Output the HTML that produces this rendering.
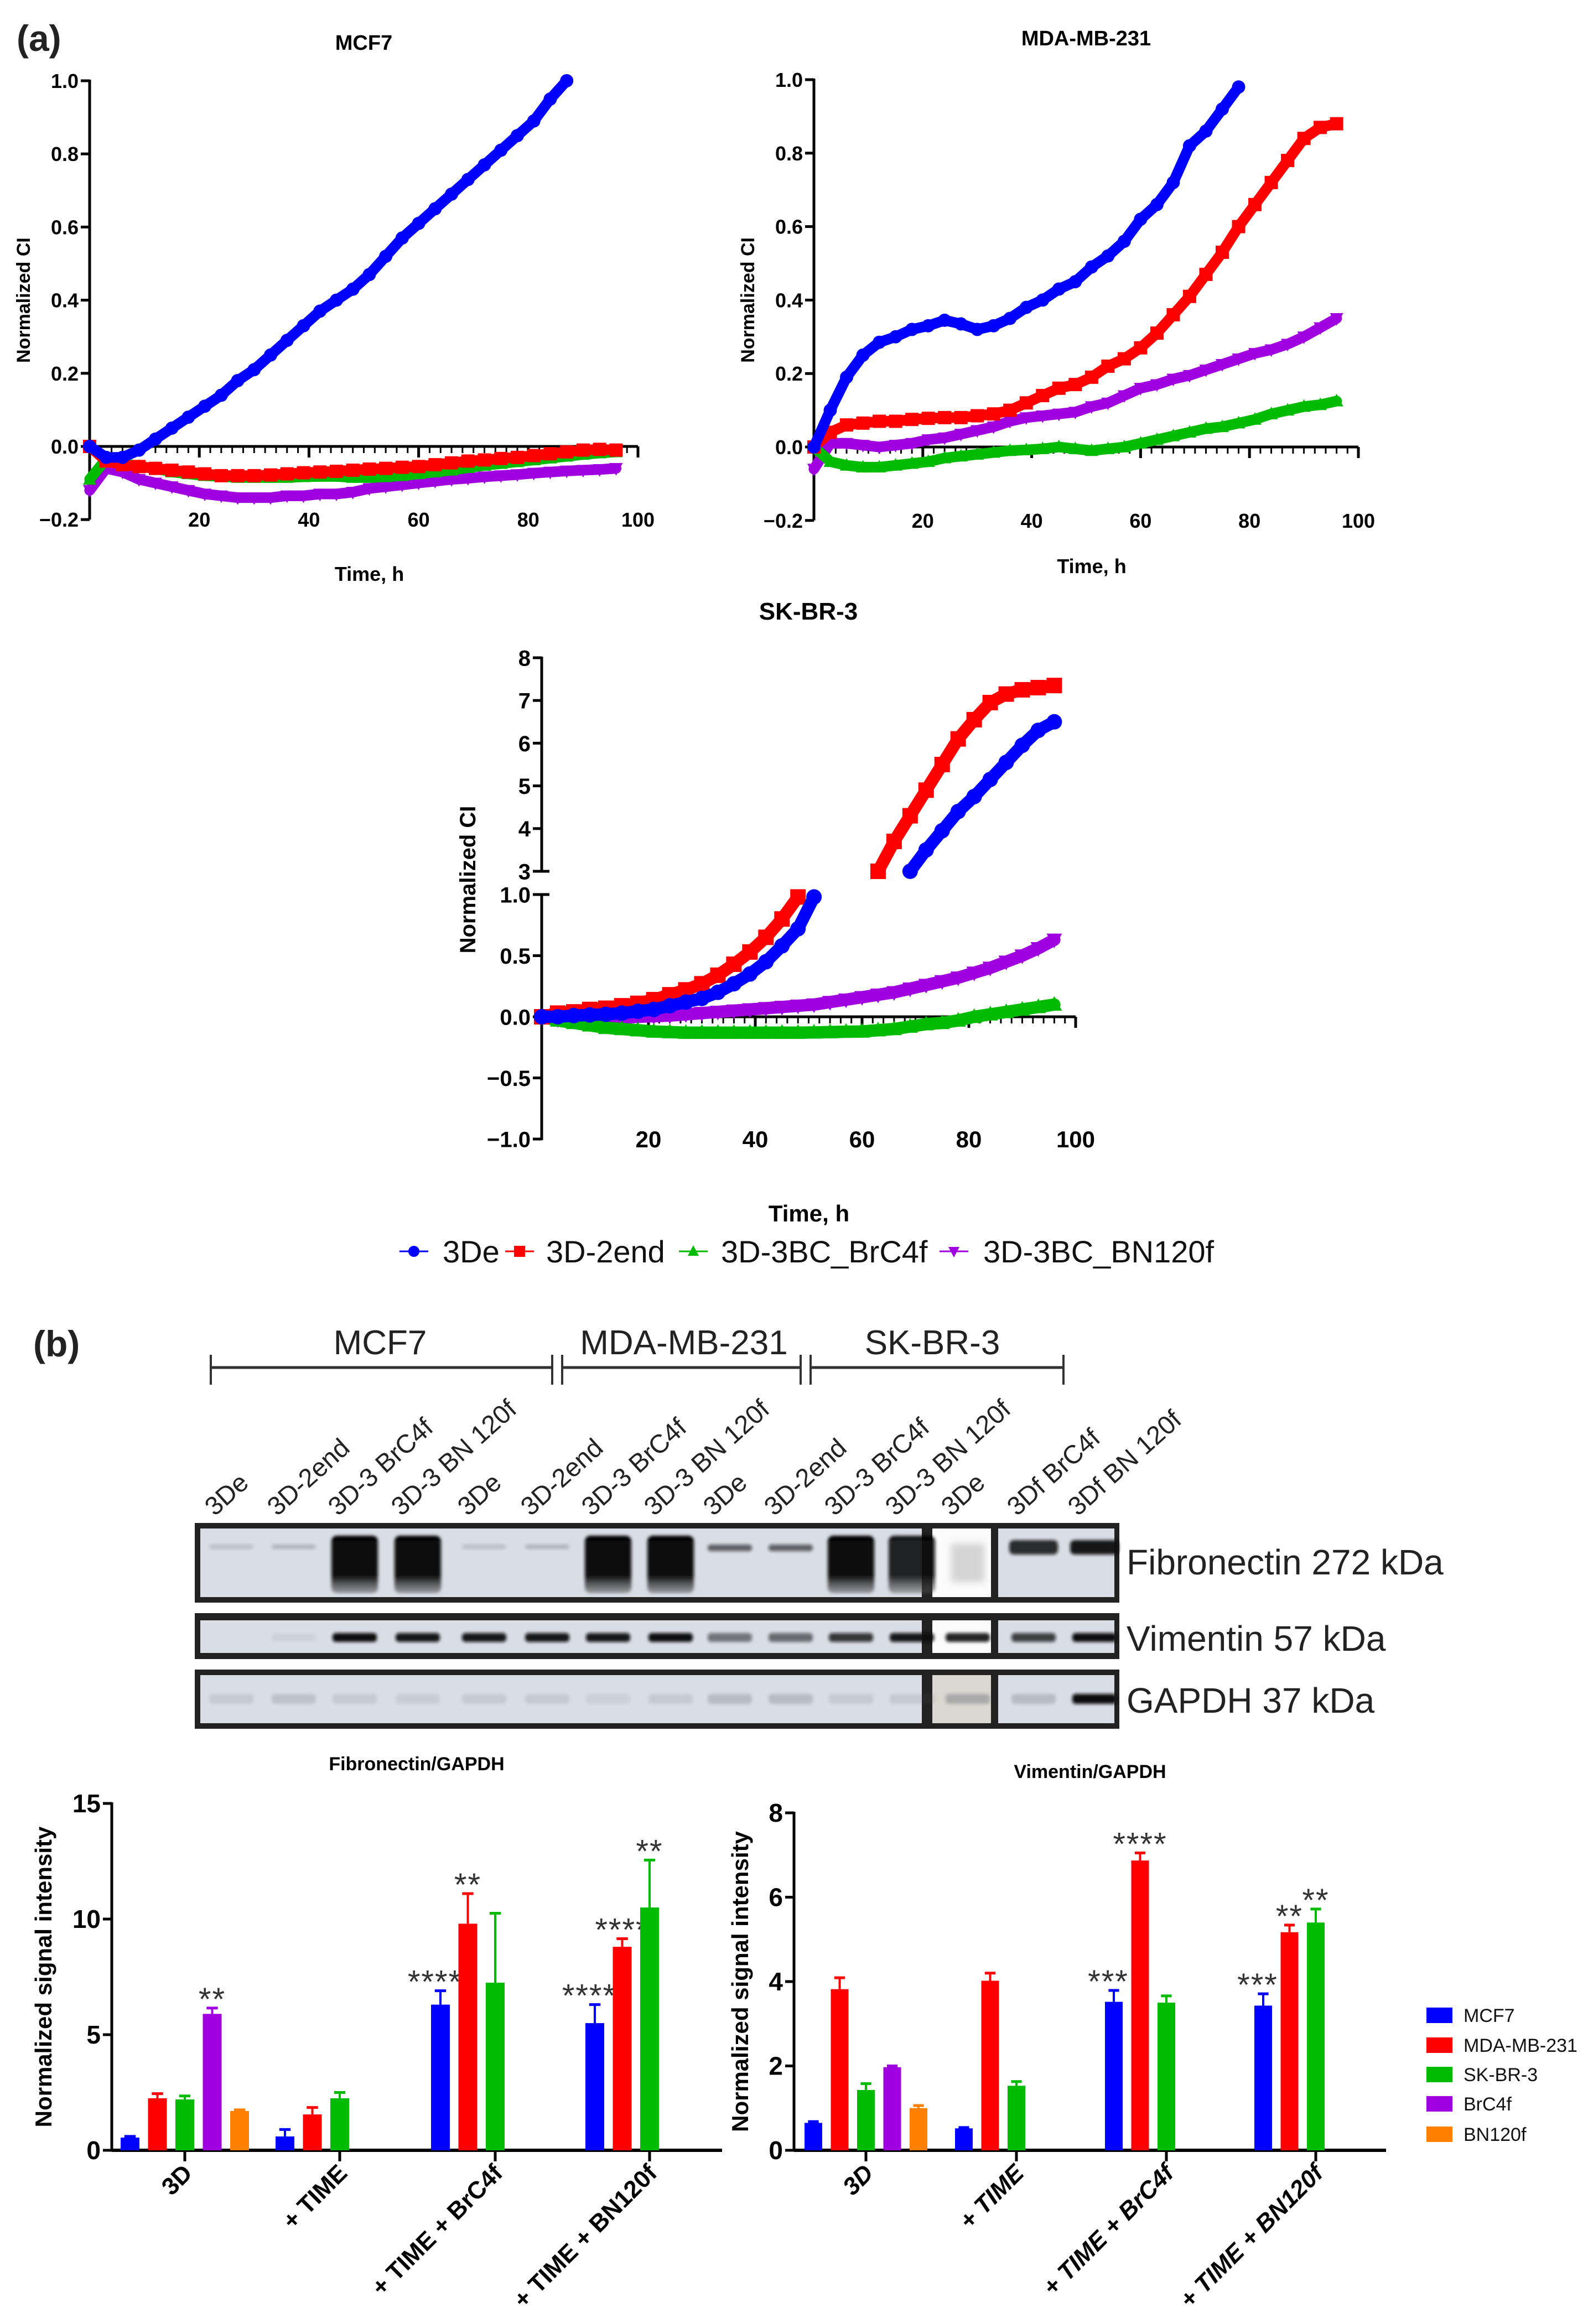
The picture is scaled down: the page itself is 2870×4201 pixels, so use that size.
<!DOCTYPE html>
<html><head><meta charset="utf-8"><style>
html,body{margin:0;padding:0;background:#fff;}
svg{display:block;font-family:"Liberation Sans",Arial,sans-serif;}
</style></head><body>
<svg id="fig" width="2870" height="4201" viewBox="0 0 2870 4201" xmlns="http://www.w3.org/2000/svg">
<defs>
<filter id="blur6" x="-50%" y="-50%" width="200%" height="200%"><feGaussianBlur stdDeviation="6"/></filter>
<filter id="blur3" x="-50%" y="-50%" width="200%" height="200%"><feGaussianBlur stdDeviation="3"/></filter>
<linearGradient id="smear" x1="0" y1="0" x2="0" y2="1">
<stop offset="0" stop-color="#050505"/><stop offset="0.7" stop-color="#111"/><stop offset="1" stop-color="#555" stop-opacity="0.5"/>
</linearGradient>
</defs>
<text x="30" y="92" font-size="66" font-weight="bold" fill="#222">(a)</text>
<text x="60" y="2452" font-size="66" font-weight="bold" fill="#222">(b)</text>
<g id="timeSeries"></g>
<g id="blot"></g>
<g id="bars"></g>
</svg>
<script>
// ---------- time-series data ----------
const hours = [0,3,6,9,12,15,18,21,24,27,30,33,36,39,42,45,48,51,54,57,60,63,66,69,72,75,78,81,84,87,90,93,96];
const mcf7_3De = [0,-0.03,-0.03,-0.01,0.02,0.05,0.08,0.11,0.14,0.18,0.21,0.25,0.29,0.33,0.37,0.40,0.43,0.47,0.52,0.57,0.61,0.65,0.69,0.73,0.77,0.81,0.85,0.89,0.95,1.0,null,null,null];
const mcf7_2end = [0,-0.04,-0.05,-0.055,-0.06,-0.065,-0.07,-0.075,-0.08,-0.08,-0.08,-0.078,-0.075,-0.072,-0.07,-0.068,-0.065,-0.062,-0.06,-0.057,-0.055,-0.05,-0.045,-0.04,-0.037,-0.033,-0.03,-0.025,-0.02,-0.015,-0.01,-0.008,-0.01];
const mcf7_BrC4f = [-0.09,-0.035,-0.045,-0.055,-0.06,-0.07,-0.075,-0.08,-0.082,-0.085,-0.085,-0.085,-0.085,-0.083,-0.082,-0.082,-0.085,-0.085,-0.083,-0.08,-0.075,-0.07,-0.065,-0.058,-0.052,-0.047,-0.042,-0.037,-0.032,-0.027,-0.022,-0.018,-0.015];
const mcf7_BN120f = [-0.12,-0.06,-0.07,-0.09,-0.1,-0.11,-0.12,-0.13,-0.135,-0.14,-0.14,-0.14,-0.135,-0.135,-0.13,-0.13,-0.125,-0.115,-0.11,-0.105,-0.1,-0.095,-0.09,-0.087,-0.083,-0.08,-0.077,-0.073,-0.07,-0.067,-0.065,-0.063,-0.06];
const mda_3De = [0,0.10,0.19,0.25,0.285,0.30,0.32,0.33,0.345,0.335,0.32,0.33,0.35,0.38,0.40,0.43,0.45,0.49,0.52,0.56,0.62,0.66,0.72,0.82,0.86,0.92,0.98,null,null,null,null,null,null];
const mda_2end = [0,0.04,0.06,0.065,0.07,0.07,0.075,0.078,0.08,0.08,0.085,0.09,0.10,0.12,0.14,0.16,0.17,0.19,0.22,0.24,0.27,0.31,0.36,0.41,0.47,0.53,0.60,0.66,0.72,0.78,0.84,0.87,0.88];
const mda_BrC4f = [0,-0.04,-0.05,-0.055,-0.055,-0.05,-0.045,-0.04,-0.03,-0.025,-0.02,-0.015,-0.01,-0.008,-0.005,0,-0.005,-0.01,-0.005,0,0.01,0.02,0.03,0.04,0.05,0.055,0.065,0.075,0.09,0.1,0.11,0.115,0.125];
const mda_BN120f = [-0.06,0.01,0.01,0.005,0,0.005,0.01,0.02,0.025,0.035,0.045,0.055,0.07,0.08,0.085,0.09,0.095,0.11,0.12,0.14,0.16,0.17,0.185,0.195,0.21,0.225,0.24,0.255,0.265,0.28,0.3,0.325,0.35];
const skbr_3De = [0,0,0.01,0.015,0.02,0.03,0.045,0.06,0.09,0.12,0.15,0.2,0.27,0.35,0.45,0.58,0.72,0.98,null,null,null,null,null,3.0,3.5,3.95,4.4,4.75,5.15,5.55,5.95,6.3,6.5];
const skbr_2end = [0,0.03,0.04,0.06,0.07,0.09,0.11,0.14,0.18,0.22,0.27,0.34,0.43,0.53,0.65,0.8,0.98,null,null,null,null,3.0,3.7,4.3,4.9,5.5,6.1,6.55,6.95,7.15,7.25,7.3,7.35];
const skbr_BrC4f = [0,-0.03,-0.05,-0.07,-0.09,-0.1,-0.11,-0.12,-0.125,-0.13,-0.13,-0.13,-0.13,-0.13,-0.13,-0.13,-0.13,-0.128,-0.125,-0.122,-0.12,-0.11,-0.1,-0.08,-0.06,-0.05,-0.03,0,0.02,0.04,0.06,0.08,0.1];
const skbr_BN120f = [0,-0.02,-0.02,-0.02,-0.015,-0.01,0,0.005,0.01,0.02,0.03,0.04,0.05,0.06,0.07,0.08,0.09,0.1,0.12,0.14,0.16,0.18,0.2,0.23,0.26,0.29,0.32,0.36,0.4,0.45,0.5,0.56,0.63];
const seriesNames = ["3De","3D-2end","3D-3BC_BrC4f","3D-3BC_BN120f"];
const xTicks = [20,40,60,80,100];
const tsYTicks = [-0.2,0,0.2,0.4,0.6,0.8,1.0];
const skLowTicks = [-1.0,-0.5,0.0,0.5,1.0];
const skHighTicks = [3,4,5,6,7,8];

// ---------- bar data ----------
const barCategories = ["3D","+ TIME","+ TIME + BrC4f","+ TIME + BN120f"];
const barSeries = ["MCF7","MDA-MB-231","SK-BR-3","BrC4f","BN120f"];
const fibMean = [[0.55,2.25,2.2,5.9,1.7],[0.6,1.55,2.25],[6.3,9.8,7.25],[5.5,8.8,10.5]];
const fibErr  = [[0.05,0.2,0.15,0.25,0.05],[0.3,0.3,0.25],[0.6,1.3,3.0],[0.8,0.35,2.05]];
const fibStars = [[null,null,null,"**",null],[null,null,null],["****","**",null],["****","****","**"]];
const fibTicks = [0,5,10,15];
const vimMean = [[0.65,3.82,1.43,1.97,1.0],[0.52,4.02,1.53],[3.52,6.87,3.5],[3.43,5.17,5.4]];
const vimErr  = [[0.03,0.27,0.15,0.03,0.06],[0.02,0.18,0.1],[0.27,0.18,0.16],[0.28,0.17,0.32]];
const vimStars = [[null,null,null,null,null],[null,null,null],["***","****",null],["***","**","**"]];
const vimTicks = [0,2,4,6,8];

const NS="http://www.w3.org/2000/svg";
function mk(parent, tag, attrs, text){
  const e=document.createElementNS(NS,tag);
  for(const k in attrs) e.setAttribute(k,attrs[k]);
  if(text!==undefined) e.textContent=text;
  parent.appendChild(e); return e;
}
const COLORS=["#0000ff","#ff0000","#00bb00","#a000e0"];
const BARCOL=["#0000ff","#ff0000","#00bb00","#a000e0","#ff8000"];

function marker(g, kind, x, y, s, col){
  let e;
  if(kind===0) e=mk(g,"circle",{cx:x,cy:y,r:s,fill:col});
  else if(kind===1) e=mk(g,"rect",{x:x-s,y:y-s,width:2*s,height:2*s,fill:col});
  else if(kind===2) e=mk(g,"polygon",{points:`${x},${y-s*1.1} ${x-s},${y+s*0.8} ${x+s},${y+s*0.8}`,fill:col});
  else e=mk(g,"polygon",{points:`${x},${y+s*1.1} ${x-s},${y-s*0.8} ${x+s},${y-s*0.8}`,fill:col});
  return e;
}

function drawSeries(g, vals, idx, X, Y, ms){
  const col=COLORS[idx];
  const sg=mk(g,"g",{});
  
  
  let seg=[];
  const segs=[];
  hours.forEach((h,i)=>{
    const v=vals[i]; const py=(v===null)?null:Y(v);
    if(py===null){ if(seg.length) segs.push(seg); seg=[]; }
    else seg.push([X(h),py]);
  });
  if(seg.length) segs.push(seg);
  segs.forEach(s=>{
    if(s.length>1){
      const pl=mk(sg,"polyline",{points:s.map(p=>p.join(',')).join(' '),fill:"none",stroke:col,"stroke-width":ms*1.6,"stroke-linejoin":"round","stroke-linecap":"round"});
      
      
    }
    s.forEach(p=>{
      const m=marker(sg,idx,p[0],p[1],ms,col);
      
      
    });
  });
}

function xAxis(g, X, yAxis, yLabel, big){
  mk(g,"line",{x1:X(0),y1:yAxis,x2:X(100),y2:yAxis,stroke:"#000","stroke-width":5});
  for(let h=2;h<=100;h+=2){
    const major=h%20===0;
    mk(g,"line",{x1:X(h),y1:yAxis,x2:X(h),y2:yAxis+(major?20:12),stroke:"#000","stroke-width":major?5:3});
  }
  xTicks.forEach(t=>{
    const tl=mk(g,"text",{x:X(t),y:yLabel,"font-size":big?42:36,"font-weight":"bold","text-anchor":"middle"},String(t));
    
    
  });
}
function yTickLabel(g,x,y,v,fs){
  mk(g,"line",{x1:x-16,y1:y,x2:x,y2:y,stroke:"#000","stroke-width":5});
  const s=(v<0?"\u2212":"")+Math.abs(v).toFixed(Number.isInteger(v)&&Math.abs(v)>=2?0:1);
  const t=mk(g,"text",{x:x-20,y:y+fs*0.36,"font-size":fs,"font-weight":"bold","text-anchor":"end"},s);
  
  
}

function simplePanel(name,title,data,x0,x100,y0,yTop,titleY,timeY){
  const g=mk(document.getElementById('timeSeries'),"g",{});
  
  
  const X=h=>x0+(x100-x0)*h/100;
  const Y=v=>y0-(y0-yTop)*v;
  const tt=mk(g,"text",{x:(x0+x100)/2,y:titleY,"font-size":38,"font-weight":"bold","text-anchor":"middle"},title);
  
  
  mk(g,"line",{x1:x0,y1:Y(1.0)-2,x2:x0,y2:Y(-0.2),stroke:"#000","stroke-width":5});
  tsYTicks.forEach(v=>yTickLabel(g,x0,Y(v),v,36));
  xAxis(g,X,y0,Y(-0.2)+13,false);
  const yt=mk(g,"text",{x:0,y:0,"font-size":34,"font-weight":"bold","text-anchor":"middle",transform:`translate(${x0-108},${(Y(1)+Y(-0.2))/2}) rotate(-90)`},"Normalized CI");
  
  
  const xt=mk(g,"text",{x:(x0+x100)/2+10,y:timeY,"font-size":36,"font-weight":"bold","text-anchor":"middle"},"Time, h");
  
  
  [3,2,1,0].forEach(i=>drawSeries(g,data[i],i,X,Y,12));
}
simplePanel("mcf7","MCF7",[mcf7_3De,mcf7_2end,mcf7_BrC4f,mcf7_BN120f],162,1153,807,146,90,1050);
simplePanel("mda-mb-231","MDA-MB-231",[mda_3De,mda_2end,mda_BrC4f,mda_BN120f],1471,2455,808,144,82,1036);

// SK-BR-3 with broken axis
(function(){
  const g=mk(document.getElementById('timeSeries'),"g",{});
  
  
  const x0=979,x100=1944,y0=1838,lowU=221,y3=1575,hiU=77.2;
  const X=h=>x0+(x100-x0)*h/100;
  const Y=v=>{ if(v<=1.0) return y0-v*lowU; if(v>=3) return y3-(v-3)*hiU; return null; };
  const tt=mk(g,"text",{x:1461,y:1120,"font-size":44,"font-weight":"bold","text-anchor":"middle"},"SK-BR-3");
  
  
  mk(g,"line",{x1:x0,y1:Y(8)-2,x2:x0,y2:y3+2,stroke:"#000","stroke-width":5});
  mk(g,"line",{x1:x0,y1:Y(1)-2,x2:x0,y2:Y(-1)+2,stroke:"#000","stroke-width":5});
  mk(g,"line",{x1:x0,y1:y3,x2:x0+14,y2:y3,stroke:"#000","stroke-width":5});
  mk(g,"line",{x1:x0,y1:Y(1),x2:x0+14,y2:Y(1),stroke:"#000","stroke-width":5});
  skHighTicks.forEach(v=>yTickLabel(g,x0,Y(v),v,40));
  skLowTicks.forEach(v=>yTickLabel(g,x0,Y(v),v,40));
  xAxis(g,X,y0,Y(-1)+15,true);
  const yt=mk(g,"text",{x:0,y:0,"font-size":40,"font-weight":"bold","text-anchor":"middle",transform:`translate(${x0-120},${1590}) rotate(-90)`},"Normalized CI");
  
  
  const xt=mk(g,"text",{x:1462,y:2208,"font-size":42,"font-weight":"bold","text-anchor":"middle"},"Time, h");
  
  
  const data=[skbr_3De,skbr_2end,skbr_BrC4f,skbr_BN120f];
  [3,2,1,0].forEach(i=>drawSeries(g,data[i],i,X,Y,14));
  // legend
  const lg=mk(g,"g",{});
  
  
  const mx=[748,939,1253,1724], tx=[800,987,1303,1777];
  seriesNames.forEach((n,i)=>{
    const eg=mk(lg,"g",{});
    
    
    mk(eg,"line",{x1:mx[i]-26,y1:2262,x2:mx[i]+26,y2:2262,stroke:COLORS[i],"stroke-width":3});
    marker(eg,i,mx[i],2262,10,COLORS[i]);
    mk(eg,"text",{x:tx[i],y:2282,"font-size":56,fill:"#111"},n);
  });
})();

// ---------- western blot ----------
(function(){
  const g=document.getElementById('blot');
  const head=mk(g,"g",{stroke:"#333","stroke-width":5});
  
  
  [[381,998],[1016,1447],[1465,1922]].forEach(s=>mk(head,"line",{x1:s[0],y1:2472,x2:s[1],y2:2472}));
  [381,998,1016,1447,1465,1922].forEach(x=>mk(head,"line",{x1:x,y1:2449,x2:x,y2:2503,"stroke-width":4}));
  [["MCF7",687],["MDA-MB-231",1236],["SK-BR-3",1685]].forEach(a=>{
    const t=mk(g,"text",{x:a[1],y:2448,"font-size":62,"text-anchor":"middle",fill:"#222"},a[0]);
    
    
  });
  const lanes=[418,531,641,755,875,989,1099,1212,1319,1429,1538,1648,1749,1868,1978];
  const laneLabels=["3De","3D-2end","3D-3 BrC4f","3D-3 BN 120f","3De","3D-2end","3D-3 BrC4f","3D-3 BN 120f","3De","3D-2end","3D-3 BrC4f","3D-3 BN 120f","3De","3Df BrC4f","3Df BN 120f"];
  lanes.forEach((x,i)=>{
    const t=mk(g,"text",{x:0,y:0,"font-size":47,fill:"#222",transform:`translate(${x-30},${2742}) rotate(-42)`},laneLabels[i]);
    
    
  });
  function box(name,y1,y2,iy1,iy2,label,ly){
    const bg=mk(g,"g",{});
    
    
    mk(bg,"rect",{x:352,y:y1,width:1671,height:y2-y1,fill:"#222"});
    mk(bg,"rect",{x:362,y:iy1,width:1304,height:iy2-iy1,fill:"#d9dee6"});
    mk(bg,"rect",{x:1685,y:iy1,width:106,height:iy2-iy1,fill:name==="gapdh-blot"?"#d8d8d0":"#fbfbfb"});
    mk(bg,"rect",{x:1804,y:iy1,width:210,height:iy2-iy1,fill:"#d9dee6"});
    const t=mk(g,"text",{x:2036,y:ly,"font-size":64,fill:"#222"},label);
    
    
    return bg;
  }
  const fib=box("fibronectin-blot",2753,2897,2763,2887,"Fibronectin 272 kDa",2846);
  const fibInt=[0.15,0.2,1,1,0.15,0.2,1,1,0.6,0.6,1,0.9,0.15,0.85,0.95];
  lanes.forEach((x,i)=>{
    const v=fibInt[i];
    let e;
    if(v>=0.85 && i<12) e=mk(fib,"rect",{x:x-42,y:2776,width:84,height:104,rx:10,fill:"url(#smear)",opacity:v,filter:"url(#blur3)"});
    else if(i===12) e=mk(fib,"rect",{x:x-30,y:2790,width:60,height:70,fill:"#bbb",opacity:0.6,filter:"url(#blur6)"});
    else if(i>12) e=mk(fib,"rect",{x:x-44,y:2784,width:88,height:26,rx:8,fill:"#111",opacity:v,filter:"url(#blur3)"});
    else e=mk(fib,"rect",{x:x-40,y:2792,width:80,height:v>0.5?12:8,rx:5,fill:"#111",opacity:v,filter:"url(#blur3)"});
    
    
  });
  const vim=box("vimentin-blot",2916,2999,2929,2988,"Vimentin 57 kDa",2984);
  const vimInt=[0,0.05,1,0.95,0.95,0.95,0.95,1,0.5,0.55,0.8,0.95,0.9,0.75,1];
  lanes.forEach((x,i)=>{
    const e=mk(vim,"rect",{x:x-40,y:2952,width:80,height:16,rx:6,fill:"#0a0a0a",opacity:vimInt[i],filter:"url(#blur3)"});
    
    
  });
  const gap=box("gapdh-blot",3018,3125,3028,3115,"GAPDH 37 kDa",3096);
  const gapInt=[0.15,0.2,0.15,0.12,0.15,0.15,0.1,0.15,0.25,0.25,0.15,0.15,0.35,0.25,1];
  lanes.forEach((x,i)=>{
    const e=mk(gap,"rect",{x:x-40,y:3062,width:80,height:18,rx:6,fill:i===14?"#0a0a0a":"#556",opacity:gapInt[i],filter:"url(#blur3)"});
    
    
  });
})();

// ---------- bar charts ----------
function barChart(name,title,titleX,titleY,axisX,axisEnd,y0,yTop,maxV,ticks,mean,err,stars,groupTicks,spacing,bw,italic,ytX){
  const g=mk(document.getElementById('bars'),"g",{});
  
  
  const Y=v=>y0-(y0-yTop)*v/maxV;
  const t=mk(g,"text",{x:titleX,y:titleY,"font-size":34,"font-weight":"bold","text-anchor":"middle"},title);
  
  
  mk(g,"line",{x1:axisX,y1:Y(maxV)-2,x2:axisX,y2:y0+2,stroke:"#000","stroke-width":5});
  mk(g,"line",{x1:axisX,y1:y0,x2:axisEnd,y2:y0,stroke:"#000","stroke-width":6});
  ticks.forEach(v=>{
    mk(g,"line",{x1:axisX-16,y1:Y(v),x2:axisX,y2:Y(v),stroke:"#000","stroke-width":5});
    const tl=mk(g,"text",{x:axisX-20,y:Y(v)+16,"font-size":46,"font-weight":"bold","text-anchor":"end"},String(v));
    
    
  });
  const yt=mk(g,"text",{x:0,y:0,"font-size":42,"font-weight":"bold","text-anchor":"middle",transform:`translate(${ytX},${(Y(maxV)+y0)/2}) rotate(-90)`},"Normalized signal intensity");
  
  
  barCategories.forEach((c,gi)=>{
    const cx=groupTicks[gi];
    mk(g,"line",{x1:cx,y1:y0,x2:cx,y2:y0+20,stroke:"#000","stroke-width":5});
    const cl=mk(g,"text",{x:0,y:0,"font-size":44,"font-weight":"bold","font-style":italic?"italic":"normal","text-anchor":"end",transform:`translate(${cx+16},${y0+44}) rotate(-45)`},c);
    
    
    mean[gi].forEach((v,si)=>{
      const bx=cx+(si-2)*spacing;
      const col=BARCOL[si];
      const b=mk(g,"rect",{x:bx-bw/2,y:Y(v),width:bw,height:y0-Y(v),fill:col});
      
      
      const top=Y(v+err[gi][si]);
      mk(g,"line",{x1:bx,y1:Y(v),x2:bx,y2:top,stroke:col,"stroke-width":4});
      mk(g,"line",{x1:bx-bw*0.3,y1:top,x2:bx+bw*0.3,y2:top,stroke:col,"stroke-width":5});
      const s=stars[gi][si];
      if(s){
        const sx = (s.length>2 && si===0) ? bx-10 : bx;
        const st=mk(g,"text",{x:sx,y:top+4,"font-size":58,"text-anchor":"middle",fill:"#333","letter-spacing":2},s);
        
        
      }
    });
  });
}
barChart("fibronectin-gapdh-chart","Fibronectin/GAPDH",753,3200,202,1305,3887,3260,15,fibTicks,fibMean,fibErr,fibStars,[334,614,895,1174],49.5,34,false,93);
barChart("vimentin-gapdh-chart","Vimentin/GAPDH",1970,3214,1435,2505,3887,3277,8,vimTicks,vimMean,vimErr,vimStars,[1565,1837,2108,2378],47.5,32,true,1352);

// bar legend
(function(){
  const g=mk(document.getElementById('bars'),"g",{});
  
  
  const rows=[3643,3697,3750,3803,3858];
  barSeries.forEach((n,i)=>{
    const e=mk(g,"g",{});
    
    
    mk(e,"rect",{x:2578,y:rows[i]-14,width:47,height:28,fill:BARCOL[i]});
    mk(e,"text",{x:2645,y:rows[i]+12,"font-size":34,fill:"#111"},n);
  });
})();
</script>
</body></html>
